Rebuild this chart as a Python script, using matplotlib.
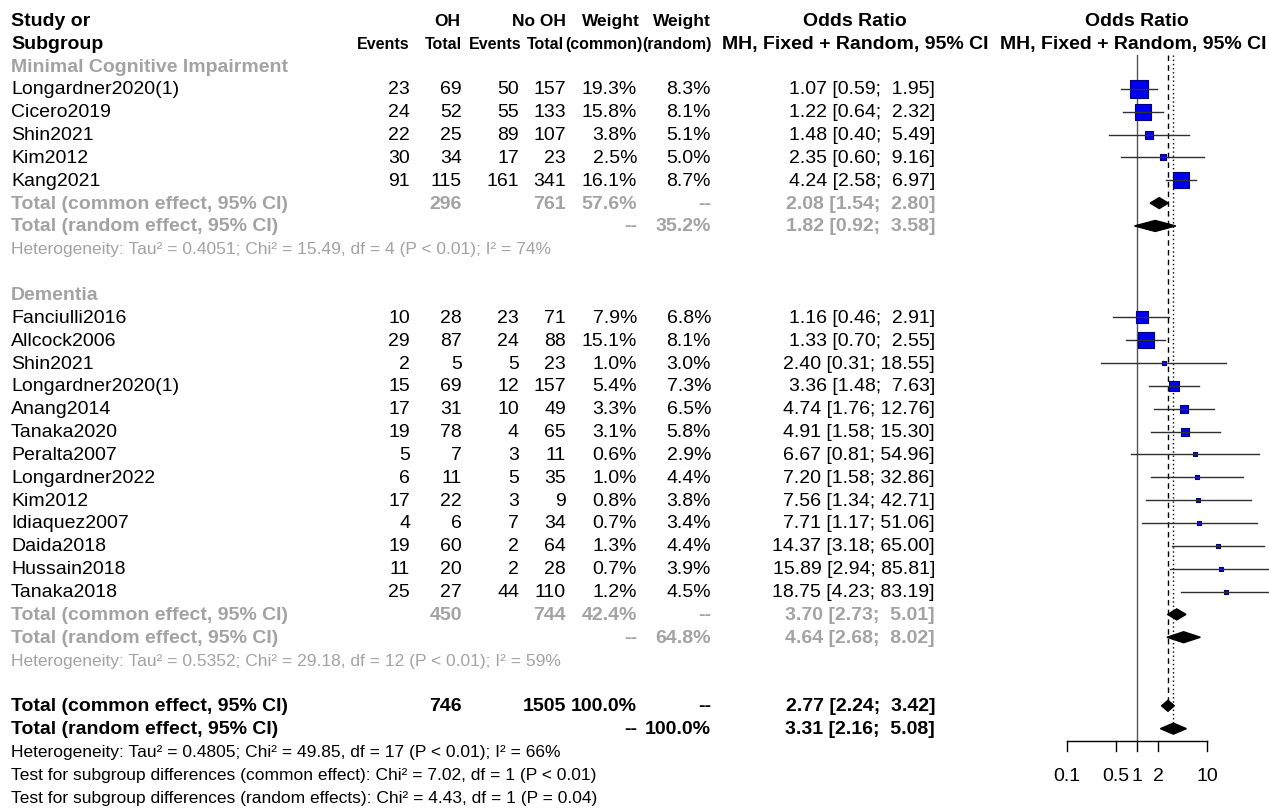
import numpy as np
import matplotlib
matplotlib.use('Agg')
from matplotlib import pyplot as plt
from matplotlib.patches import Polygon

plt.rcParams['font.family'] = ['Liberation Sans', 'DejaVu Sans']

# --- data -------------------------------------------------------------
mci_names = ['Longardner2020(1)', 'Cicero2019', 'Shin2021', 'Kim2012', 'Kang2021']
mci_ev_oh = [23, 24, 22, 30, 91]
mci_n_oh = [69, 52, 25, 34, 115]
mci_ev_no = [50, 55, 89, 17, 161]
mci_n_no = [157, 133, 107, 23, 341]
mci_w_common = [19.3, 15.8, 3.8, 2.5, 16.1]
mci_w_random = [8.3, 8.1, 5.1, 5.0, 8.7]
mci_or = [1.07, 1.22, 1.48, 2.35, 4.24]
mci_lo = [0.59, 0.64, 0.40, 0.60, 2.58]
mci_hi = [1.95, 2.32, 5.49, 9.16, 6.97]

dem_names = ['Fanciulli2016', 'Allcock2006', 'Shin2021', 'Longardner2020(1)',
             'Anang2014', 'Tanaka2020', 'Peralta2007', 'Longardner2022',
             'Kim2012', 'Idiaquez2007', 'Daida2018', 'Hussain2018', 'Tanaka2018']
dem_ev_oh = [10, 29, 2, 15, 17, 19, 5, 6, 17, 4, 19, 11, 25]
dem_n_oh = [28, 87, 5, 69, 31, 78, 7, 11, 22, 6, 60, 20, 27]
dem_ev_no = [23, 24, 5, 12, 10, 4, 3, 5, 3, 7, 2, 2, 44]
dem_n_no = [71, 88, 23, 157, 49, 65, 11, 35, 9, 34, 64, 28, 110]
dem_w_common = [7.9, 15.1, 1.0, 5.4, 3.3, 3.1, 0.6, 1.0, 0.8, 0.7, 1.3, 0.7, 1.2]
dem_w_random = [6.8, 8.1, 3.0, 7.3, 6.5, 5.8, 2.9, 4.4, 3.8, 3.4, 4.4, 3.9, 4.5]
dem_or = [1.16, 1.33, 2.40, 3.36, 4.74, 4.91, 6.67, 7.20, 7.56, 7.71, 14.37, 15.89, 18.75]
dem_lo = [0.46, 0.70, 0.31, 1.48, 1.76, 1.58, 0.81, 1.58, 1.34, 1.17, 3.18, 2.94, 4.23]
dem_hi = [2.91, 2.55, 18.55, 7.63, 12.76, 15.30, 54.96, 32.86, 42.71, 51.06, 65.00, 85.81, 83.19]

# subgroup / overall totals: [n_oh, n_no, w_common, w_random, or, lo, hi]
mci_common = [296, 761, 57.6, None, 2.08, 1.54, 2.80]
mci_random = [None, None, None, 35.2, 1.82, 0.92, 3.58]
dem_common = [450, 744, 42.4, None, 3.70, 2.73, 5.01]
dem_random = [None, None, None, 64.8, 4.64, 2.68, 8.02]
all_common = [746, 1505, 100.0, None, 2.77, 2.24, 3.42]
all_random = [None, None, None, 100.0, 3.31, 2.16, 5.08]

mci_het = 'Heterogeneity: Tau² = 0.4051; Chi² = 15.49, df = 4 (P < 0.01); I² = 74%'
dem_het = 'Heterogeneity: Tau² = 0.5352; Chi² = 29.18, df = 12 (P < 0.01); I² = 59%'
all_het = 'Heterogeneity: Tau² = 0.4805; Chi² = 49.85, df = 17 (P < 0.01); I² = 66%'
test_common = 'Test for subgroup differences (common effect): Chi² = 7.02, df = 1 (P < 0.01)'
test_random = 'Test for subgroup differences (random effects): Chi² = 4.43, df = 1 (P = 0.04)'

tick_vals = [0.1, 0.5, 1, 2, 10]
tick_labels = ['0.1', '0.5', '1', '2', '10']

# --- layout -----------------------------------------------------------
W, H = 1269, 812
FS = 14
FS_HEAD = 12.5
FS_SUB = 11.5
FS_SMALL = 12.5
GRAY = '#a3a3a3'

fig = plt.figure(figsize=(W / 100, H / 100), dpi=100)
ax = fig.add_axes([0, 0, 1, 1])
ax.set_xlim(0, W)
ax.set_ylim(H, 0)
ax.axis('off')

# forest panel, log scale: OR=1 at x=1137px, 70px per decade
x_one, decade = 1137, 70
left = 1040
fx = fig.add_axes([left / W, 0, (W - left) / W, 1])
fx.set_xscale('log')
fx.set_xlim(10 ** ((left - x_one) / decade), 10 ** ((W - x_one) / decade))
fx.set_ylim(H, 0)
fx.axis('off')

cols = [410, 462, 519, 566, 637, 711, 935]


def row_y(k):
    return 67 + 22.85 * k


def or_text(est, lo, hi):
    return f'{est:.2f} [{lo:.2f}; {hi:5.2f}]'


# headers
hdr = dict(fontsize=FS, fontweight='bold', va='center')
ax.text(11, row_y(-2), 'Study or', **hdr)
ax.text(11, row_y(-1), 'Subgroup', **hdr)
for x, s in zip([460, 566, 640, 711], ['OH', 'No OH', 'Weight', 'Weight']):
    ax.text(x, row_y(-2), s, ha='right', fontsize=FS_HEAD, fontweight='bold', va='center')
sub_heads = ['Events', 'Total', 'Events', 'Total', '(common)', '(random)']
for x, s in zip([410, 462, 522, 564, 642, 712], sub_heads):
    ax.text(x, row_y(-1), s, ha='right', fontsize=FS_SUB, fontweight='bold', va='center')
ax.text(855, row_y(-2), 'Odds Ratio', ha='center', **hdr)
ax.text(855, row_y(-1), 'MH, Fixed + Random, 95% CI', ha='center', **hdr)
ax.text(1137, row_y(-2), 'Odds Ratio', ha='center', **hdr)
ax.text(1133, row_y(-1), 'MH, Fixed + Random, 95% CI', ha='center', **hdr)


def study_rows(k0, names, e1, n1, e2, n2, wc, wr, est, lo, hi):
    for i in range(len(names)):
        y = row_y(k0 + i)
        ax.text(11, y, names[i], fontsize=FS, va='center')
        vals = [str(e1[i]), str(n1[i]), str(e2[i]), str(n2[i]),
                f'{wc[i]:.1f}%', f'{wr[i]:.1f}%', or_text(est[i], lo[i], hi[i])]
        for x, s in zip(cols, vals):
            ax.text(x, y, s, fontsize=FS, ha='right', va='center')
        side = 4.1 * np.sqrt(wc[i]) * 0.72
        fx.scatter([est[i]], [y], s=side ** 2, marker='s', color='#0000ee',
                   edgecolors='#000080', linewidths=0.8, zorder=3)
        fx.plot([lo[i], hi[i]], [y, y], color='#303030', lw=1, zorder=4)


def total_row(k, label, vals, color):
    y = row_y(k)
    ax.text(11, y, label, fontsize=FS, fontweight='bold', color=color, va='center')
    n1, n2, wc, wr, est, lo, hi = vals
    for x, s in [(cols[1], n1), (cols[3], n2)]:
        if s is not None:
            ax.text(x, y, str(s), fontsize=FS, fontweight='bold', color=color,
                    ha='right', va='center')
    for x, w in [(cols[4], wc), (cols[5], wr)]:
        s = '--' if w is None else f'{w:.1f}%'
        ax.text(x, y, s, fontsize=FS, fontweight='bold', color=color, ha='right', va='center')
    ax.text(cols[6], y, or_text(est, lo, hi), fontsize=FS, fontweight='bold',
            color=color, ha='right', va='center')


def diamond(k, vals):
    y = row_y(k)
    est, lo, hi = vals[4:]
    h = 5.5
    fx.add_patch(Polygon([(lo, y), (est, y - h), (hi, y), (est, y + h)],
                         closed=True, facecolor='black', edgecolor='black', zorder=5))


# minimal cognitive impairment
ax.text(11, row_y(0), 'Minimal Cognitive Impairment', fontsize=FS, fontweight='bold',
        color=GRAY, va='center')
study_rows(1, mci_names, mci_ev_oh, mci_n_oh, mci_ev_no, mci_n_no,
           mci_w_common, mci_w_random, mci_or, mci_lo, mci_hi)
total_row(6, 'Total (common effect, 95% CI)', mci_common, GRAY)
total_row(7, 'Total (random effect, 95% CI)', mci_random, GRAY)
diamond(6, mci_common)
diamond(7, mci_random)
ax.text(11, row_y(8), mci_het, fontsize=FS_SMALL, color=GRAY, va='center')

# dementia
ax.text(11, row_y(10), 'Dementia', fontsize=FS, fontweight='bold', color=GRAY, va='center')
study_rows(11, dem_names, dem_ev_oh, dem_n_oh, dem_ev_no, dem_n_no,
           dem_w_common, dem_w_random, dem_or, dem_lo, dem_hi)
total_row(24, 'Total (common effect, 95% CI)', dem_common, GRAY)
total_row(25, 'Total (random effect, 95% CI)', dem_random, GRAY)
diamond(24, dem_common)
diamond(25, dem_random)
ax.text(11, row_y(26), dem_het, fontsize=FS_SMALL, color=GRAY, va='center')

# overall
total_row(28, 'Total (common effect, 95% CI)', all_common, 'black')
total_row(29, 'Total (random effect, 95% CI)', all_random, 'black')
diamond(28, all_common)
diamond(29, all_random)
ax.text(11, row_y(30), all_het, fontsize=FS_SMALL, va='center')
ax.text(11, row_y(31), test_common, fontsize=FS_SMALL, va='center')
ax.text(11, row_y(32), test_random, fontsize=FS_SMALL, va='center')

# reference lines
top = 56
axis_y = 742
fx.plot([1, 1], [top, axis_y], color='#555555', lw=1, zorder=1)
fx.plot([all_common[4]] * 2, [top, row_y(28)], color='black', lw=1,
        linestyle=(0, (4, 3)), zorder=1)
fx.plot([all_random[4]] * 2, [top, row_y(29)], color='black', lw=1,
        linestyle=(0, (1, 2)), zorder=1)

# x axis
fx.plot([tick_vals[0], tick_vals[-1]], [axis_y, axis_y], color='black', lw=1)
for t, lab in zip(tick_vals, tick_labels):
    fx.plot([t, t], [axis_y, axis_y + 10], color='black', lw=1)
    fx.text(t, 777, lab, fontsize=14, ha='center', va='center')

plt.savefig('out.png', dpi=100)
